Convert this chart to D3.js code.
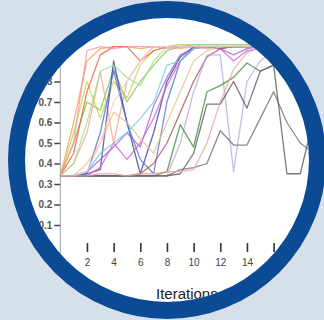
<!DOCTYPE html>
<html>
<head>
<meta charset="utf-8">
<script src="https://cdn.jsdelivr.net/npm/d3@7"></script>
<style>
  html, body { margin: 0; padding: 0; background: #d6e0ea; }
  svg { display: block; }
</style>
</head>
<body>
<svg id="chart" width="324" height="320"></svg>
<script>
// iterations 0..19
const iterations = d3.range(0, 20);
const xTicks = [2, 4, 6, 8, 10, 12, 14, 16];
const yTicks = [0.1, 0.2, 0.3, 0.4, 0.5, 0.6, 0.7, 0.8, 0.9];

const colors = [
  '#c5d64a', '#7cc242', '#f5a04a', '#ee5b3b', '#f48fb1', '#f4a48c', '#3b3f9a',
  '#4a6fd0', '#9a5fd0', '#d35fc8', '#9ee08c', '#6ccbe0', '#e8c07a', '#b24a4a',
  '#b7a6e0', '#3c8a3c', '#555555', '#6a6a6a', '#f7c6d6', '#f0a0a0'
];

const s1  = [0.34, 0.55, 0.80, 0.62, 0.80, 0.72, 0.88, 0.95, 0.97, 0.98, 0.98, 0.98, 0.98, 0.98, 0.98, 0.98, 0.98, 0.98, 0.98, 0.98];
const s2  = [0.34, 0.50, 0.70, 0.66, 0.86, 0.70, 0.80, 0.88, 0.95, 0.97, 0.98, 0.98, 0.98, 0.98, 0.98, 0.98, 0.98, 0.98, 0.98, 0.98];
const s3  = [0.34, 0.60, 0.90, 0.96, 0.97, 0.97, 0.96, 0.97, 0.97, 0.97, 0.97, 0.97, 0.97, 0.97, 0.97, 0.97, 0.97, 0.97, 0.97, 0.97];
const s4  = [0.34, 0.45, 0.75, 0.93, 0.97, 0.97, 0.90, 0.95, 0.97, 0.97, 0.97, 0.97, 0.97, 0.97, 0.97, 0.97, 0.97, 0.97, 0.97, 0.97];
const s5  = [0.34, 0.50, 0.95, 0.97, 0.96, 0.97, 0.97, 0.97, 0.96, 0.97, 0.97, 0.96, 0.97, 0.97, 0.97, 0.97, 0.97, 0.97, 0.97, 0.97];
const s6  = [0.34, 0.40, 0.55, 0.85, 0.50, 0.80, 0.90, 0.97, 0.97, 0.96, 0.97, 0.97, 0.97, 0.97, 0.97, 0.97, 0.97, 0.97, 0.97, 0.97];
const s7  = [0.34, 0.34, 0.35, 0.37, 0.90, 0.60, 0.35, 0.55, 0.80, 0.92, 0.97, 0.97, 0.97, 0.97, 0.97, 0.97, 0.97, 0.97, 0.97, 0.97];
const s8  = [0.34, 0.34, 0.35, 0.55, 0.85, 0.60, 0.42, 0.35, 0.70, 0.90, 0.97, 0.97, 0.96, 0.97, 0.97, 0.97, 0.97, 0.97, 0.97, 0.97];
const s9  = [0.34, 0.34, 0.36, 0.42, 0.48, 0.55, 0.48, 0.68, 0.82, 0.93, 0.96, 0.97, 0.96, 0.93, 0.96, 0.97, 0.97, 0.97, 0.97, 0.97];
const s10 = [0.34, 0.34, 0.34, 0.38, 0.50, 0.42, 0.50, 0.62, 0.78, 0.90, 0.96, 0.97, 0.96, 0.90, 0.95, 0.96, 0.97, 0.97, 0.97, 0.97];
const s11 = [0.34, 0.40, 0.60, 0.85, 0.88, 0.82, 0.78, 0.90, 0.97, 0.98, 0.98, 0.98, 0.98, 0.98, 0.98, 0.98, 0.98, 0.98, 0.98, 0.98];
const s12 = [0.34, 0.34, 0.36, 0.45, 0.50, 0.55, 0.62, 0.70, 0.88, 0.90, 0.96, 0.97, 0.97, 0.97, 0.97, 0.97, 0.97, 0.97, 0.97, 0.97];
const s13 = [0.34, 0.34, 0.40, 0.50, 0.65, 0.60, 0.52, 0.45, 0.60, 0.75, 0.90, 0.95, 0.97, 0.97, 0.97, 0.97, 0.97, 0.97, 0.97, 0.97];
const s14 = [0.34, 0.34, 0.34, 0.34, 0.34, 0.34, 0.35, 0.40, 0.50, 0.65, 0.80, 0.92, 0.96, 0.97, 0.97, 0.97, 0.97, 0.97, 0.97, 0.97];
const s15 = [0.34, 0.34, 0.34, 0.34, 0.34, 0.34, 0.34, 0.34, 0.34, 0.50, 0.75, 0.93, 0.93, 0.36, 0.80, 0.90, 0.95, 0.97, 0.97, 0.97];
const s16 = [0.34, 0.34, 0.34, 0.34, 0.34, 0.34, 0.34, 0.34, 0.36, 0.59, 0.48, 0.75, 0.78, 0.82, 0.89, 0.85, 0.88, 0.90, 0.92, 0.93];
const s17 = [0.34, 0.34, 0.34, 0.34, 0.34, 0.34, 0.34, 0.34, 0.34, 0.35, 0.45, 0.69, 0.69, 0.80, 0.67, 0.85, 0.88, 0.35, 0.35, 0.62];
const s18 = [0.34, 0.34, 0.34, 0.34, 0.34, 0.34, 0.34, 0.34, 0.34, 0.37, 0.38, 0.40, 0.56, 0.49, 0.49, 0.62, 0.75, 0.60, 0.50, 0.45];
const s19 = [0.34, 0.34, 0.36, 0.50, 0.70, 0.80, 0.90, 0.97, 0.97, 0.97, 0.97, 0.97, 0.97, 0.97, 0.97, 0.97, 0.97, 0.97, 0.97, 0.97];
const s20 = [0.34, 0.34, 0.34, 0.35, 0.35, 0.34, 0.35, 0.35, 0.36, 0.36, 0.37, 0.50, 0.70, 0.86, 0.94, 0.97, 0.97, 0.97, 0.97, 0.97];

const series = [s1, s2, s3, s4, s5, s6, s7, s8, s9, s10, s11, s12, s13, s14, s15, s16, s17, s18, s19, s20];

const svg = d3.select('#chart');

const cx = 167, cy = 160;
const outerR = 159, innerR = 142;

const defs = svg.append('defs');
defs.append('clipPath')
  .attr('id', 'inner-clip')
  .append('circle')
  .attr('cx', cx)
  .attr('cy', cy)
  .attr('r', innerR);

defs.append('filter')
  .attr('id', 'soft')
  .append('feGaussianBlur')
  .attr('stdDeviation', 0.55);

// white disc
svg.append('circle')
  .attr('cx', cx)
  .attr('cy', cy)
  .attr('r', innerR)
  .attr('fill', '#ffffff');

const g = svg.append('g').attr('clip-path', 'url(#inner-clip)');

// Scales
const xScale = d3.scaleLinear().domain([0, 19]).range([60.3, 313.6]);
const yScale = d3.scaleLinear().domain([0, 1]).range([245.5, 40.5]);

// Y axis
const yAxis = d3.axisLeft(yScale)
  .tickValues(yTicks)
  .tickFormat(d3.format('.1f'))
  .tickSize(6)
  .tickPadding(2);

const yG = g.append('g')
  .attr('transform', `translate(${xScale(0)},0)`)
  .call(yAxis);

yG.select('.domain').remove();
yG.selectAll('.tick line')
  .attr('stroke', '#444')
  .attr('stroke-width', 1.6);
yG.selectAll('.tick text')
  .attr('fill', '#555')
  .style('font-family', 'Liberation Sans, Arial, sans-serif')
  .style('font-size', '10px')
  .style('font-weight', 'bold');

g.append('line')
  .attr('x1', xScale(0))
  .attr('x2', xScale(0))
  .attr('y1', 40)
  .attr('y2', 275)
  .attr('stroke', '#a0a0a0')
  .attr('stroke-width', 1);

// X axis (tick marks + labels, no baseline)
const xAxis = d3.axisBottom(xScale)
  .tickValues(xTicks)
  .tickFormat(d3.format('d'))
  .tickSize(9)
  .tickPadding(7);

const xG = g.append('g')
  .attr('transform', 'translate(0,243)')
  .call(xAxis);

xG.select('.domain').remove();
xG.selectAll('.tick line')
  .attr('stroke', '#333')
  .attr('stroke-width', 1.6);
xG.selectAll('.tick text')
  .attr('fill', '#444')
  .style('font-family', 'Liberation Sans, Arial, sans-serif')
  .style('font-size', '10px');

// Lines
const line = d3.line()
  .x((d, i) => xScale(iterations[i]))
  .y(d => yScale(d));

g.append('g')
  .attr('filter', 'url(#soft)')
  .selectAll('path')
  .data(series)
  .enter()
  .append('path')
  .attr('d', line)
  .attr('fill', 'none')
  .attr('stroke', (d, i) => colors[i])
  .attr('stroke-width', 1.3)
  .attr('stroke-opacity', 0.78)
  .attr('stroke-linejoin', 'round');

// X axis label
g.append('text')
  .attr('x', 156)
  .attr('y', 299)
  .attr('fill', '#222')
  .style('font-family', 'Liberation Sans, Arial, sans-serif')
  .style('font-size', '15px')
  .text('Iterations');

// Blue ring
svg.append('circle')
  .attr('cx', cx)
  .attr('cy', cy)
  .attr('r', (outerR + innerR) / 2)
  .attr('fill', 'none')
  .attr('stroke', '#0b4a94')
  .attr('stroke-width', outerR - innerR);
</script>
</body>
</html>
